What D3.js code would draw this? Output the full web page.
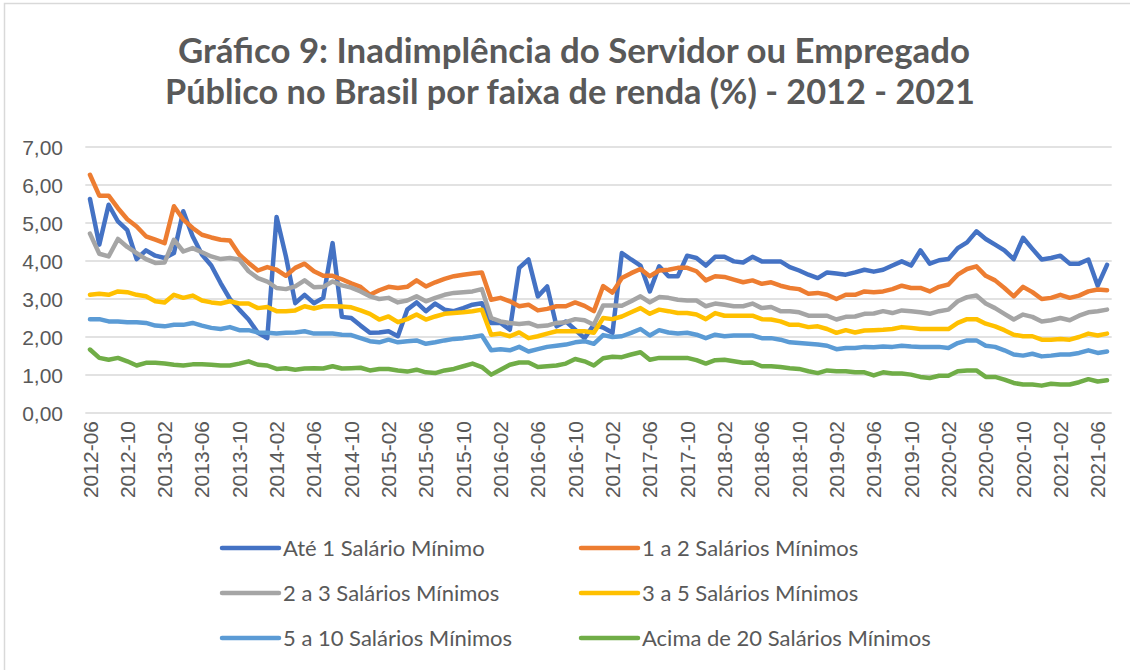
<!DOCTYPE html>
<html>
<head>
<meta charset="utf-8">
<script src="https://cdn.jsdelivr.net/npm/d3@7"></script>
<style>
  html, body { margin: 0; padding: 0; background: #ffffff; }
  svg { display: block; }
</style>
</head>
<body>
<svg id="chart" width="1130" height="670"></svg>
<script>
// ---------- DATA ----------
const titleLines = [
  "Gráfico 9: Inadimplência do Servidor ou Empregado",
  "Público no Brasil por faixa de renda (%) - 2012 - 2021"
];

// monthly categories 2012-06 .. 2021-07
const categories = d3.timeMonth.range(new Date(2012, 5, 1), new Date(2021, 7, 1))
  .map(d3.timeFormat("%Y-%m"));

const tickLabels = ["2012-06","2012-10","2013-02","2013-06","2013-10","2014-02","2014-06",
  "2014-10","2015-02","2015-06","2015-10","2016-02","2016-06","2016-10","2017-02","2017-06",
  "2017-10","2018-02","2018-06","2018-10","2019-02","2019-06","2019-10","2020-02","2020-06",
  "2020-10","2021-02","2021-06"];

const yTicks = [0, 1, 2, 3, 4, 5, 6, 7];

const seriesNames = ["Até 1 Salário Mínimo", "1 a 2 Salários Mínimos", "2 a 3 Salários Mínimos",
  "3 a 5 Salários Mínimos", "5 a 10 Salários Mínimos", "Acima de 20 Salários Mínimos"];

const seriesColors = ["#4472C4", "#ED7D31", "#A5A5A5", "#FFC000", "#5B9BD5", "#70AD47"];

const ate1 = [5.63,4.43,5.48,5.04,4.81,4.05,4.28,4.14,4.08,4.21,5.31,4.65,4.17,3.88,3.42,3.00,2.72,2.46,2.11,1.97,
  5.16,4.12,2.89,3.11,2.89,3.03,4.47,2.53,2.50,2.30,2.11,2.12,2.15,2.02,2.72,2.91,2.68,2.88,2.72,2.68,
  2.76,2.85,2.89,2.37,2.37,2.19,3.82,4.04,3.07,3.33,2.28,2.41,2.19,1.97,2.32,2.25,2.11,4.21,4.04,3.88,
  3.20,3.86,3.60,3.60,4.14,4.08,3.88,4.11,4.11,3.99,3.96,4.11,3.99,3.99,3.99,3.84,3.75,3.64,3.55,3.70,
  3.67,3.64,3.70,3.77,3.72,3.77,3.88,3.99,3.88,4.28,3.93,4.02,4.05,4.34,4.49,4.78,4.58,4.43,4.28,4.05,
  4.61,4.32,4.04,4.08,4.14,3.93,3.93,4.04,3.35,3.90];

const de1a2 = [6.27,5.72,5.72,5.39,5.10,4.91,4.65,4.56,4.47,5.44,5.09,4.87,4.69,4.62,4.56,4.54,4.17,3.95,3.75,3.84,
  3.77,3.61,3.82,3.93,3.73,3.61,3.61,3.52,3.41,3.32,3.11,3.23,3.32,3.29,3.32,3.49,3.33,3.44,3.53,3.60,
  3.64,3.67,3.70,2.98,3.03,2.94,2.81,2.85,2.70,2.74,2.81,2.81,2.91,2.82,2.68,3.34,3.17,3.55,3.68,3.79,
  3.60,3.75,3.77,3.82,3.82,3.73,3.49,3.60,3.58,3.51,3.44,3.49,3.40,3.44,3.35,3.29,3.26,3.14,3.16,3.11,
  3.00,3.11,3.11,3.20,3.18,3.20,3.26,3.35,3.29,3.29,3.20,3.32,3.38,3.64,3.79,3.86,3.61,3.49,3.29,3.07,
  3.32,3.18,3.00,3.03,3.11,3.03,3.09,3.20,3.25,3.23];

const de2a3 = [4.72,4.19,4.12,4.58,4.37,4.21,4.05,3.95,3.96,4.56,4.25,4.34,4.23,4.12,4.05,4.08,4.04,3.73,3.55,3.46,
  3.29,3.26,3.33,3.49,3.31,3.32,3.46,3.36,3.30,3.20,3.07,3.00,3.03,2.91,2.96,3.07,2.94,3.03,3.11,3.16,
  3.18,3.20,3.26,2.50,2.41,2.37,2.34,2.37,2.28,2.30,2.37,2.39,2.47,2.44,2.32,2.83,2.83,2.82,2.94,3.07,
  2.91,3.05,3.03,2.98,2.96,2.96,2.81,2.88,2.85,2.81,2.81,2.88,2.76,2.79,2.68,2.68,2.65,2.56,2.56,2.56,
  2.46,2.53,2.54,2.61,2.62,2.68,2.63,2.70,2.68,2.65,2.61,2.68,2.72,2.94,3.05,3.09,2.88,2.76,2.61,2.46,
  2.59,2.53,2.41,2.44,2.50,2.44,2.56,2.65,2.68,2.72];

const de3a5 = [3.11,3.14,3.11,3.20,3.18,3.11,3.07,2.94,2.91,3.11,3.03,3.09,2.96,2.91,2.88,2.94,2.88,2.88,2.76,2.79,
  2.68,2.68,2.70,2.81,2.75,2.81,2.81,2.80,2.78,2.70,2.61,2.46,2.54,2.39,2.47,2.59,2.46,2.54,2.61,2.63,
  2.65,2.68,2.72,2.06,2.09,2.02,2.12,1.97,2.02,2.09,2.15,2.15,2.15,2.15,2.11,2.50,2.47,2.54,2.65,2.76,
  2.61,2.72,2.68,2.63,2.63,2.59,2.47,2.63,2.56,2.56,2.56,2.56,2.47,2.46,2.41,2.32,2.32,2.26,2.28,2.21,
  2.11,2.18,2.12,2.17,2.18,2.19,2.21,2.26,2.24,2.21,2.21,2.21,2.21,2.37,2.47,2.47,2.35,2.28,2.18,2.06,
  2.02,2.02,1.93,1.93,1.95,1.93,2.00,2.09,2.04,2.09];

const de5a10 = [2.47,2.47,2.41,2.41,2.39,2.39,2.37,2.30,2.28,2.32,2.32,2.37,2.30,2.24,2.21,2.26,2.18,2.18,2.12,2.11,
  2.09,2.11,2.12,2.15,2.09,2.09,2.09,2.06,2.05,1.97,1.89,1.86,1.93,1.86,1.89,1.91,1.82,1.86,1.91,1.95,
  1.97,2.00,2.04,1.65,1.68,1.65,1.74,1.62,1.68,1.74,1.77,1.80,1.86,1.89,1.82,2.05,2.00,2.02,2.11,2.21,
  2.04,2.18,2.12,2.09,2.11,2.06,1.97,2.06,2.02,2.04,2.04,2.04,1.97,1.97,1.93,1.86,1.84,1.82,1.80,1.77,
  1.68,1.71,1.71,1.74,1.73,1.75,1.74,1.77,1.75,1.74,1.74,1.74,1.71,1.84,1.91,1.91,1.77,1.74,1.65,1.54,
  1.51,1.56,1.49,1.51,1.54,1.54,1.58,1.65,1.58,1.62];

const acima20 = [1.67,1.45,1.40,1.45,1.36,1.25,1.32,1.32,1.30,1.27,1.25,1.28,1.28,1.27,1.25,1.25,1.30,1.36,1.27,1.25,
  1.16,1.18,1.14,1.17,1.18,1.17,1.23,1.17,1.18,1.19,1.12,1.16,1.16,1.12,1.09,1.14,1.07,1.05,1.12,1.16,
  1.23,1.30,1.21,1.01,1.14,1.27,1.33,1.33,1.21,1.23,1.25,1.30,1.42,1.36,1.25,1.44,1.48,1.47,1.54,1.60,
  1.40,1.45,1.45,1.45,1.45,1.39,1.30,1.39,1.40,1.36,1.32,1.33,1.23,1.23,1.21,1.18,1.16,1.10,1.05,1.12,
  1.10,1.10,1.07,1.07,0.99,1.07,1.04,1.04,1.01,0.95,0.92,0.98,0.98,1.10,1.12,1.12,0.95,0.95,0.88,0.79,
  0.75,0.75,0.72,0.77,0.75,0.75,0.81,0.89,0.83,0.86];

const seriesValues = [ate1, de1a2, de2a3, de3a5, de5a10, acima20];

// ---------- DRAW ----------
const svg = d3.select("#chart");
const textColor = "#595959";

// chart border (partially visible)
svg.append("path")
  .attr("d", "M4.5,1140 L4.5,3.5 L1140,3.5")
  .attr("fill", "none").attr("stroke", "#d9d9d9").attr("stroke-width", 1.5);

// title
const title = svg.append("text")
  .attr("text-anchor", "middle")
  .attr("font-family", "Lato, 'Open Sans', sans-serif")
  .attr("font-weight", "bold")
  .attr("font-size", 34)
  .attr("fill", textColor);
title.append("tspan").attr("x", 574).attr("y", 63)
  .attr("textLength", 792).attr("lengthAdjust", "spacingAndGlyphs").text(titleLines[0]);
title.append("tspan").attr("x", 570).attr("y", 104)
  .attr("textLength", 810).attr("lengthAdjust", "spacingAndGlyphs").text(titleLines[1]);

const plot = { left: 85.3, right: 1111.7, top: 147, bottom: 413 };

const x = d3.scaleBand().domain(categories).range([plot.left, plot.right]).padding(0);
const cx = c => x(c) + x.bandwidth() / 2;
const y = d3.scaleLinear().domain([0, 7]).range([plot.bottom, plot.top]);

const ptBR = d3.formatLocale({ decimal: ",", thousands: ".", grouping: [3], currency: ["R$", ""] });
const fmt = ptBR.format(".2f");

// gridlines
svg.append("g").selectAll("line").data(yTicks).join("line")
  .attr("x1", plot.left).attr("x2", plot.right)
  .attr("y1", d => y(d)).attr("y2", d => y(d))
  .attr("stroke", "#d9d9d9").attr("stroke-width", 1.5);

// y axis labels
const yAxis = d3.axisLeft(y).tickValues(yTicks).tickFormat(fmt).tickSize(0).tickPadding(0);
const gy = svg.append("g").attr("transform", "translate(63,0)").call(yAxis);
gy.select(".domain").remove();
gy.selectAll("text")
  .attr("font-family", "'Liberation Sans', Arial, sans-serif")
  .attr("font-size", 21).attr("fill", textColor).attr("dy", "0.36em");

// x axis labels
const xAxis = d3.axisBottom(x).tickValues(tickLabels).tickSize(0).tickPadding(0);
const gx = svg.append("g").attr("transform", `translate(0,${plot.bottom})`).call(xAxis);
gx.select(".domain").remove();
gx.selectAll("text")
  .attr("font-family", "'Liberation Sans', Arial, sans-serif")
  .attr("font-size", 21).attr("fill", textColor)
  .attr("text-anchor", "end")
  .attr("transform", "translate(0,8) rotate(-90)")
  .attr("x", 0).attr("y", 0).attr("dy", "0.36em");

// lines
const line = d3.line()
  .x((d, i) => cx(categories[i]))
  .y(d => y(d));

svg.append("g").selectAll("path").data(seriesValues).join("path")
  .attr("d", d => line(d))
  .attr("fill", "none")
  .attr("stroke", (d, i) => seriesColors[i])
  .attr("stroke-width", 4.5)
  .attr("stroke-linejoin", "round")
  .attr("stroke-linecap", "round");

// legend
const legendCols = [222, 581];
const legendRows = [548, 593, 638];
const lg = svg.append("g").selectAll("g").data(seriesNames).join("g")
  .attr("transform", (d, i) => `translate(${legendCols[i % 2]},${legendRows[Math.floor(i / 2)]})`);
lg.append("line")
  .attr("x1", 0).attr("x2", 57).attr("y1", 0).attr("y2", 0)
  .attr("stroke", (d, i) => seriesColors[i])
  .attr("stroke-width", 4.5).attr("stroke-linecap", "round");
lg.append("text")
  .attr("x", 61).attr("y", 0).attr("dy", "0.35em")
  .attr("font-family", "Lato, 'Open Sans', sans-serif")
  .attr("font-size", 22).attr("fill", textColor)
  .text(d => d);
</script>
</body>
</html>
